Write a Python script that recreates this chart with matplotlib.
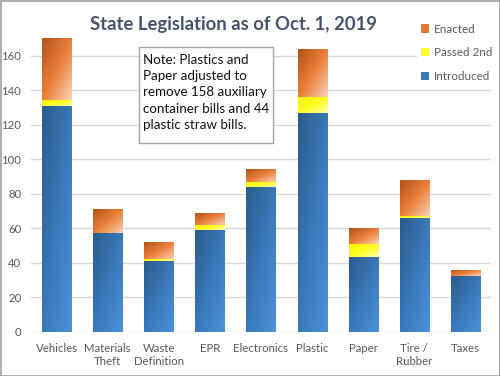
import numpy as np
import matplotlib
matplotlib.use('Agg')
import matplotlib.pyplot as plt
from matplotlib.patches import Rectangle, Patch
from matplotlib.colors import to_rgb

plt.rcParams['font.family'] = ['Lato', 'DejaVu Sans']

categories = ['Vehicles', 'Materials\nTheft', 'Waste\nDefinition', 'EPR', 'Electronics',
              'Plastic', 'Paper', 'Tire /\nRubber', 'Taxes']
introduced = [131, 57, 41, 59, 84, 127, 43, 66, 32]
passed_2nd = [3, 0, 1, 3, 3, 9, 8, 1, 0]
enacted = [36, 14, 10, 7, 7, 28, 9, 21, 4]

blue = ['#2b5c8a', '#3a78b8', '#4b93dc']
yellow = ['#f2f200', '#ffff20', '#ffffb0']
orange = ['#b0521a', '#ea7d36', '#f9d2b8']


def grad_fill(ax, bar, stops):
    x, y = bar.get_x(), bar.get_y()
    w, h = bar.get_width(), bar.get_height()
    if h <= 0:
        return
    n = 60
    U, V = np.meshgrid(np.linspace(0, 1, n), np.linspace(0, 1, n))
    t = (U + (1 - V)) / 2
    c = [np.array(to_rgb(s)) for s in stops]
    lo = c[0] + (c[1] - c[0]) * (t[..., None] / 0.5)
    hi = c[1] + (c[2] - c[1]) * ((t[..., None] - 0.5) / 0.5)
    img = np.where(t[..., None] < 0.5, lo, hi)
    im = ax.imshow(img, extent=(x, x + w, y, y + h), origin='lower', aspect='auto',
                   interpolation='bilinear', zorder=3)
    im.set_clip_path(bar)
    bar.set_facecolor('none')


fig = plt.figure(figsize=(5, 3.76), dpi=100)
ax = fig.add_axes([0.062, 0.118, 0.92, 0.803])

xs = np.arange(len(categories))
bottom2 = np.array(introduced) + np.array(passed_2nd)
b1 = ax.bar(xs, introduced, width=0.57, zorder=3, linewidth=0)
b2 = ax.bar(xs, passed_2nd, bottom=introduced, width=0.57, zorder=3, linewidth=0)
b3 = ax.bar(xs, enacted, bottom=bottom2, width=0.57, zorder=3, linewidth=0)
for bars, stops in ((b1, blue), (b2, yellow), (b3, orange)):
    for b in bars:
        grad_fill(ax, b, stops)

ax.set_xlim(-0.5, len(categories) - 0.5)
ax.set_ylim(0, 175)
ax.set_yticks(range(0, 161, 20))
ax.set_xticks(xs)
ax.set_xticklabels(categories, fontsize=8.2, color='#595959', linespacing=1.3)
ax.tick_params(axis='y', labelsize=8.2, labelcolor='#595959', length=0, pad=7)
ax.tick_params(axis='x', length=0, pad=8)
ax.grid(axis='y', color='#d9d9d9', linewidth=1, zorder=0)
for s in ax.spines.values():
    s.set_visible(False)

handles = [Patch(facecolor='#e07a35', label='Enacted'),
           Patch(facecolor='#ffff30', label='Passed 2nd'),
           Patch(facecolor='#3a78b8', label='Introduced')]
leg = fig.legend(handles=handles, loc='upper left', bbox_to_anchor=(0.823, 0.962),
                 frameon=True, fancybox=False, edgecolor='none', facecolor='white',
                 framealpha=1, fontsize=8.4, handlelength=0.7, handleheight=0.7,
                 handletextpad=0.4, labelspacing=1.1, borderpad=0.3)
for t in leg.get_texts():
    t.set_color('#595959')

fig.text(0.466, 0.935, 'State Legislation as of Oct. 1, 2019', ha='center', va='center',
         fontsize=13.3, fontweight='bold', color='#44546a')

fig.patches.append(Rectangle((139 / 500, 1 - 143 / 376), 134 / 500, 96 / 376,
                             transform=fig.transFigure, facecolor='white',
                             edgecolor='#a6a6a6', linewidth=1, zorder=5))
fig.text(143 / 500, 1 - 54 / 376,
         'Note: Plastics and\nPaper adjusted to\nremove 158 auxiliary\ncontainer bills and 44\nplastic straw bills.',
         ha='left', va='top', fontsize=9.6, color='#111111', linespacing=1.42, zorder=6)

fig.patches.append(Rectangle((0.001, 0.001), 0.998, 0.997, transform=fig.transFigure,
                             facecolor='none', edgecolor='#a0a0a0', linewidth=1.2))

plt.savefig('out.png', dpi=100)
plt.close()
